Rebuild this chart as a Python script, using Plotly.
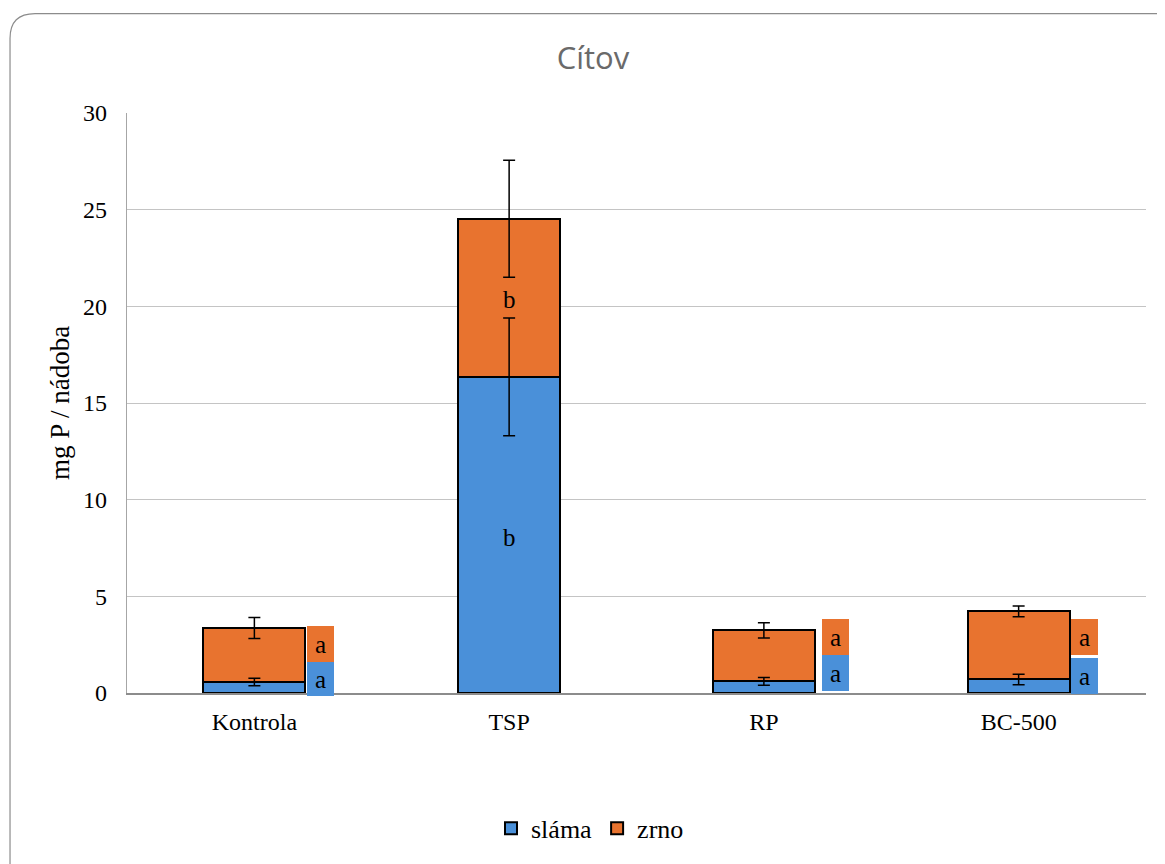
import plotly.graph_objects as go

categories = ["Kontrola", "TSP", "RP", "BC-500"]
slama = [0.57, 16.35, 0.60, 0.70]
zrno = [2.79, 8.18, 2.64, 3.52]
slama_err = [0.19, 3.05, 0.20, 0.27]
total_err = [0.54, 3.03, 0.40, 0.28]

# significance letters (category index, letter, series)
letters_boxed = [
    (0, "a", "zrno"), (0, "a", "slama"),
    (2, "a", "zrno"), (2, "a", "slama"),
    (3, "a", "zrno"), (3, "a", "slama"),
]
letters_plain = [(1, "b", 20.33), (1, "b", 8.05)]

BLUE = "#4a90d9"
ORANGE = "#e8732f"
SERIF = "Liberation Serif, Times New Roman, serif"

totals = [s + z for s, z in zip(slama, zrno)]

fig = go.Figure()
fig.add_trace(go.Bar(
    x=categories, y=slama, name="sláma",
    marker=dict(color=BLUE, line=dict(color="black", width=2)),
    width=0.4,
))
fig.add_trace(go.Bar(
    x=categories, y=zrno, name="zrno",
    marker=dict(color=ORANGE, line=dict(color="black", width=2)),
    width=0.4,
))
# error bars drawn on top of the bars
fig.add_trace(go.Scatter(
    x=categories, y=slama, mode="markers", marker=dict(opacity=0),
    showlegend=False, hoverinfo="skip",
    error_y=dict(type="data", array=slama_err, color="black", thickness=1.5, width=6),
))
fig.add_trace(go.Scatter(
    x=categories, y=totals, mode="markers", marker=dict(opacity=0),
    showlegend=False, hoverinfo="skip",
    error_y=dict(type="data", array=total_err, color="black", thickness=1.5, width=6),
))

# boxed letter positions (x offset from category centre, y centre in data units)
box_pos = {
    (0, "zrno"): (0.259, 2.52), (0, "slama"): (0.259, 0.72),
    (2, "zrno"): (0.281, 2.88), (2, "slama"): (0.281, 1.04),
    (3, "zrno"): (0.258, 2.88), (3, "slama"): (0.258, 0.87),
}
box_h = {(0, "zrno"): 36, (0, "slama"): 34, (2, "zrno"): 36, (2, "slama"): 36,
         (3, "zrno"): 36, (3, "slama"): 36}
for idx, letter, series in letters_boxed:
    dx, yc = box_pos[(idx, series)]
    fig.add_annotation(
        x=idx + dx, y=yc, xref="x", yref="y", text=letter, showarrow=False,
        font=dict(family=SERIF, size=25, color="black"),
        bgcolor=ORANGE if series == "zrno" else BLUE,
        width=27, height=box_h[(idx, series)], borderpad=0, borderwidth=0,
        align="center", valign="middle",
    )
for idx, letter, yv in letters_plain:
    fig.add_annotation(
        x=idx, y=yv, xref="x", yref="y", text=letter, showarrow=False,
        font=dict(family=SERIF, size=25, color="black"),
    )

# rounded chart-area border (top-left corner visible)
L, R, T, B = -0.1148, 1.05, 1.1715, -0.32
rx, ry = 25 / 1019, 25 / 583
path = (f"M {L},{B} L {L},{T - ry} Q {L},{T} {L + rx},{T} L {R},{T}")
fig.add_shape(type="path", path=path, xref="paper", yref="paper",
              line=dict(color="#8c8c8c", width=1.2), layer="below")

fig.update_layout(
    width=1157, height=856,
    barmode="stack",
    bargap=0.6,
    plot_bgcolor="white", paper_bgcolor="white",
    margin=dict(l=119, r=19, t=105, b=168),
    title=dict(text="Cítov", x=(593 - 8) / 1157, xanchor="center",
               y=1 - 50 / 856, yanchor="middle",
               font=dict(family="Open Sans, sans-serif", size=31, color="#6a6a6a")),
    font=dict(family=SERIF, size=24, color="black"),
    legend=dict(orientation="h", x=(590 - 127) / 1019, xanchor="center",
                y=(696 - 832) / 583, yanchor="middle",
                font=dict(family=SERIF, size=26, color="black"),
                itemwidth=30, traceorder="normal"),
    showlegend=True,
)
fig.update_xaxes(
    showline=True, linecolor="#8c8c8c", linewidth=1.5,
    ticks="", tickfont=dict(family=SERIF, size=24), ticklabelstandoff=6,
    range=[-0.5, 3.5],
)
fig.update_yaxes(
    range=[0, 30], dtick=5, showgrid=True, gridcolor="#c4c4c4", gridwidth=1.2,
    showline=True, linecolor="#a6a6a6", linewidth=1.2, zeroline=False,
    ticks="", tickfont=dict(family=SERIF, size=24), ticklabelstandoff=14,
    title=dict(text="mg P / nádoba", font=dict(family=SERIF, size=27), standoff=5),
)

fig.write_html("out.html")
